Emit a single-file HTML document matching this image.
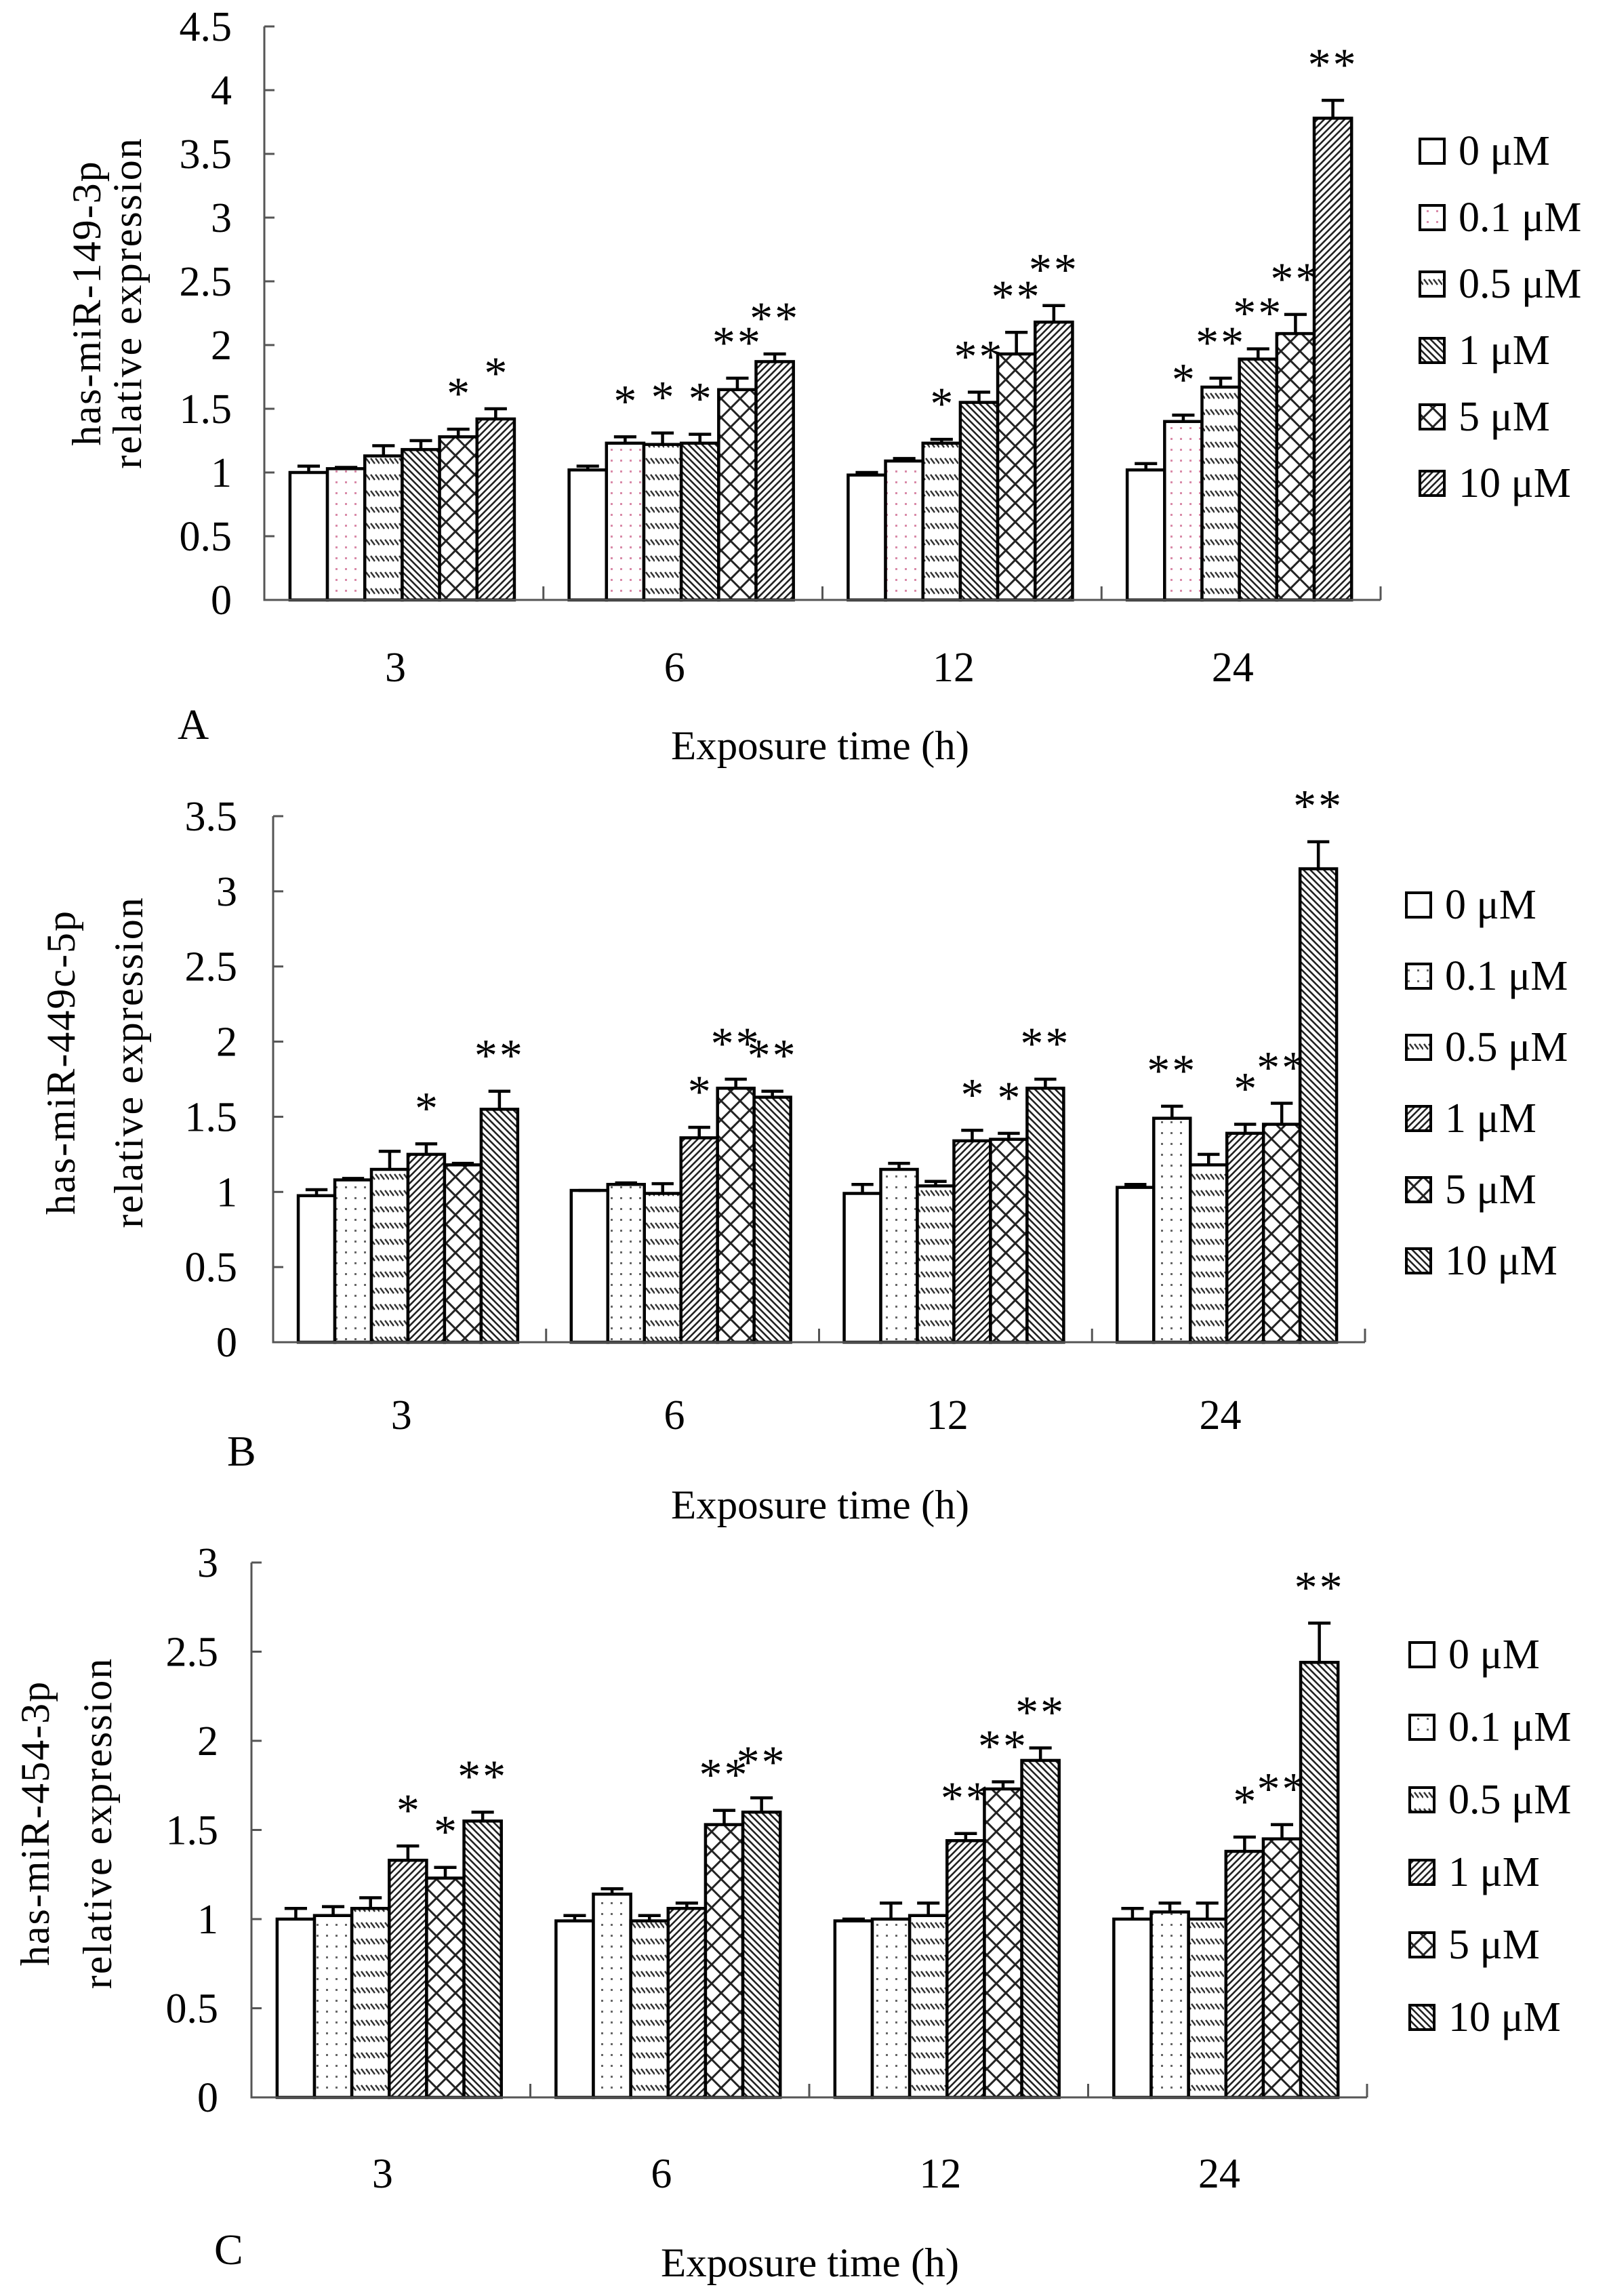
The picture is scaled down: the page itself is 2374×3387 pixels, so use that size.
<!DOCTYPE html>
<html><head><meta charset="utf-8"><style>
html,body{margin:0;padding:0;background:#fff;}
svg{display:block;}
text{font-family:"Liberation Serif",serif;fill:#000;}
</style></head><body>
<svg id="fig" width="2374" height="3387" viewBox="0 0 2374 3387" xmlns="http://www.w3.org/2000/svg">
<defs>
<pattern id="pDotPink" width="14" height="16" patternUnits="userSpaceOnUse"><rect width="14" height="16" fill="#fff"/><rect x="5" y="6" width="3" height="3" fill="#d98aa8"/></pattern>
<pattern id="pDotGray" width="14" height="16" patternUnits="userSpaceOnUse"><rect width="14" height="16" fill="#fff"/><rect x="5" y="6" width="3" height="3" fill="#666"/></pattern>
<pattern id="pDash" width="14" height="24" patternUnits="userSpaceOnUse"><rect width="14" height="24" fill="#fff"/><path d="M1 4 L7 12 M8 4 L14 12" stroke="#333" stroke-width="2.5"/></pattern>
<pattern id="pBack" width="10" height="10" patternUnits="userSpaceOnUse"><rect width="10" height="10" fill="#fff"/><path d="M-2 -2 L12 12 M-2 8 L2 12 M8 -2 L12 2" stroke="#222" stroke-width="2.6"/></pattern>
<pattern id="pFwd" width="10" height="10" patternUnits="userSpaceOnUse"><rect width="10" height="10" fill="#fff"/><path d="M-2 12 L12 -2 M-2 2 L2 -2 M8 12 L12 8" stroke="#222" stroke-width="2.6"/></pattern>
<pattern id="pBrick" width="28" height="28" patternUnits="userSpaceOnUse"><rect width="28" height="28" fill="#fff"/><path d="M0 28 L28 0 M-7 7 L7 -7 M21 35 L35 21 M0 0 L14 14 M14 14 L28 28" stroke="#222" stroke-width="3" fill="none"/></pattern>
</defs>
<g id="root"></g>
</svg>
<script>
// ---------- Panel A data ----------
const categoriesA = ["3", "6", "12", "24"];
const seriesNames = ["0 μM", "0.1 μM", "0.5 μM", "1 μM", "5 μM", "10 μM"];
const ticksA = [0, 0.5, 1, 1.5, 2, 2.5, 3, 3.5, 4, 4.5];
const valuesA = [
  [1.00, 1.03, 1.13, 1.18, 1.28, 1.42],
  [1.02, 1.23, 1.22, 1.23, 1.65, 1.87],
  [0.98, 1.09, 1.23, 1.55, 1.93, 2.18],
  [1.02, 1.40, 1.67, 1.89, 2.09, 3.78]
];
const errorsA = [
  [0.05, 0.01, 0.08, 0.07, 0.06, 0.08],
  [0.03, 0.05, 0.09, 0.07, 0.09, 0.06],
  [0.02, 0.02, 0.03, 0.08, 0.17, 0.13],
  [0.05, 0.05, 0.07, 0.08, 0.15, 0.14]
];
const starsA = [
  ["", "", "", "", "*", "*"],
  ["", "*", "*", "*", "**", "**"],
  ["", "", "*", "**", "**", "**"],
  ["", "*", "**", "**", "**", "**"]
];
// ---------- Panel B data ----------
const categoriesB = ["3", "6", "12", "24"];
const ticksB = [0, 0.5, 1, 1.5, 2, 2.5, 3, 3.5];
const valuesB = [
  [0.975, 1.08, 1.15, 1.25, 1.18, 1.55],
  [1.01, 1.05, 0.99, 1.36, 1.69, 1.63],
  [0.99, 1.15, 1.04, 1.34, 1.35, 1.69],
  [1.03, 1.49, 1.18, 1.39, 1.45, 3.15]
];
const errorsB = [
  [0.04, 0.01, 0.12, 0.07, 0.01, 0.12],
  [0.00, 0.01, 0.065, 0.07, 0.06, 0.04],
  [0.06, 0.04, 0.03, 0.07, 0.04, 0.06],
  [0.02, 0.08, 0.07, 0.06, 0.14, 0.18]
];
const starsB = [
  ["", "", "", "*", "", "**"],
  ["", "", "", "*", "**", "**"],
  ["", "", "", "*", "*", "**"],
  ["", "**", "", "*", "**", "**"]
];
// ---------- Panel C data ----------
const categoriesC = ["3", "6", "12", "24"];
const ticksC = [0, 0.5, 1, 1.5, 2, 2.5, 3];
const valuesC = [
  [1.00, 1.02, 1.06, 1.33, 1.23, 1.55],
  [0.99, 1.14, 0.99, 1.06, 1.53, 1.60],
  [0.99, 1.00, 1.02, 1.44, 1.73, 1.89],
  [1.00, 1.04, 1.00, 1.38, 1.45, 2.44]
];
const errorsC = [
  [0.06, 0.05, 0.06, 0.08, 0.06, 0.05],
  [0.03, 0.03, 0.03, 0.03, 0.08, 0.08],
  [0.01, 0.09, 0.07, 0.04, 0.04, 0.07],
  [0.06, 0.05, 0.09, 0.08, 0.08, 0.22]
];
const starsC = [
  ["", "", "", "*", "*", "**"],
  ["", "", "", "", "**", "**"],
  ["", "", "", "**", "**", "**"],
  ["", "", "", "*", "**", "**"]
];

const NS = "http://www.w3.org/2000/svg";
const root = document.getElementById("root");
function mk(tag, attrs, parent) {
  const e = document.createElementNS(NS, tag);
  for (const k in attrs) e.setAttribute(k, attrs[k]);
  (parent || root).appendChild(e);
  return e;
}

function drawPanel(cfg) {
  const g = mk("g", {});
  
  
  const {x0, x1, y0, yTop, ticks, cats, vals, errs, stars, fills} = cfg;
  const ymax = ticks[ticks.length - 1];
  const yS = v => y0 - (y0 - yTop) * v / ymax;
  const gw = (x1 - x0) / cats.length;
  const bw = gw * 0.134;
  const xBar = (ci, si) => x0 + ci * gw + gw * 0.092 + si * bw;

  vals.forEach((row, ci) => {
    row.forEach((v, si) => {
      const bx = xBar(ci, si), by = yS(v);
      const r = mk("rect", {x: bx, y: by, width: bw, height: y0 - by, fill: fills[si], stroke: "#000", "stroke-width": 4.5}, g);
      
      
      const e = errs[ci][si];
      const cx = bx + bw / 2, ey = yS(v + e);
      const eb = mk("path", {d: `M${cx} ${by} L${cx} ${ey} M${cx - bw * 0.3} ${ey} L${cx + bw * 0.3} ${ey}`, stroke: "#000", "stroke-width": 4.5, fill: "none"}, g);
      
      
      const s = stars[ci][si];
      if (s) {
        const t = mk("text", {x: cx, y: ey - 30, "font-size": 68, "text-anchor": "middle"}, g);
        t.textContent = s;
        if (s === "**") t.setAttribute("letter-spacing", "3");
        
        
      }
    });
  });

  const ax = mk("path", {d: `M${x0} ${yTop} L${x0} ${y0} L${x1} ${y0}`, stroke: "#555", "stroke-width": 3, fill: "none"}, g);
  
  
  ticks.forEach(t => {
    const yy = yS(t);
    mk("line", {x1: x0, x2: x0 + 15, y1: yy, y2: yy, stroke: "#555", "stroke-width": 3}, g);
    const tl = mk("text", {x: cfg.tickRight, y: yy + 21, "font-size": 62, "text-anchor": "end"}, g);
    tl.textContent = String(t);
    
    
  });
  for (let i = 1; i <= cats.length; i++) {
    const xx = x0 + i * gw;
    mk("line", {x1: xx, x2: xx, y1: y0, y2: y0 - 20, stroke: "#555", "stroke-width": 3}, g);
  }
  cats.forEach((c, ci) => {
    const t = mk("text", {x: x0 + ci * gw + gw * 0.47, y: cfg.catY, "font-size": 62, "text-anchor": "middle"}, g);
    t.textContent = c;
    
    
  });
  const xt = mk("text", {x: cfg.titleX, y: cfg.titleY, "font-size": 60, "text-anchor": "middle", "textLength": 440, "lengthAdjust": "spacingAndGlyphs"}, g);
  xt.textContent = "Exposure time (h)";
  
  
  const pl = mk("text", {x: cfg.letterX, y: cfg.letterY, "font-size": 64}, g);
  pl.textContent = cfg.letter;
  
  
  const yc = (y0 + yTop) / 2 + cfg.yLabOff;
  const yl1 = mk("text", {x: 0, y: 0, "font-size": 60, "text-anchor": "middle", transform: `translate(${cfg.yLab1}, ${yc}) rotate(-90)`, "letter-spacing": "2"}, g);
  yl1.textContent = cfg.ylabel;
  
  
  const yl2 = mk("text", {x: 0, y: 0, "font-size": 60, "text-anchor": "middle", transform: `translate(${cfg.yLab2}, ${yc}) rotate(-90)`, "letter-spacing": "2"}, g);
  yl2.textContent = "relative expression";
  
  
  seriesNames.forEach((n, si) => {
    const ly = cfg.legY + si * cfg.legStep;
    const le = mk("g", {}, g);
    
    
    mk("rect", {x: cfg.legX, y: ly - 18, width: 36, height: 36, fill: fills[si], stroke: "#000", "stroke-width": 4}, le);
    const t = mk("text", {x: cfg.legX + 57, y: ly + 20, "font-size": 62}, le);
    t.textContent = n;
  });
}

const fillsA = ["#fff", "url(#pDotPink)", "url(#pDash)", "url(#pBack)", "url(#pBrick)", "url(#pFwd)"];
const fillsBC = ["#fff", "url(#pDotGray)", "url(#pDash)", "url(#pFwd)", "url(#pBrick)", "url(#pBack)"];

drawPanel({name: "chart-a", key: "a", letter: "A", ylabel: "has-miR-149-3p", x0: 390, x1: 2037, y0: 885, yTop: 39,
  ticks: ticksA, cats: categoriesA, vals: valuesA, errs: errorsA, stars: starsA, fills: fillsA,
  tickRight: 342, catY: 1005, titleX: 1210, titleY: 1120, letterX: 262, letterY: 1090,
  yLab1: 148, yLab2: 208, yLabOff: -15, legX: 2095, legY: 223, legStep: 98});
drawPanel({name: "chart-b", key: "b", letter: "B", ylabel: "has-miR-449c-5p", x0: 403, x1: 2014, y0: 1980, yTop: 1204,
  ticks: ticksB, cats: categoriesB, vals: valuesB, errs: errorsB, stars: starsB, fills: fillsBC,
  tickRight: 350, catY: 2108, titleX: 1210, titleY: 2240, letterX: 335, letterY: 2162,
  yLab1: 110, yLab2: 210, yLabOff: -25, legX: 2075, legY: 1335, legStep: 105});
drawPanel({name: "chart-c", key: "c", letter: "C", ylabel: "has-miR-454-3p", x0: 371, x1: 2017, y0: 3094, yTop: 2305,
  ticks: ticksC, cats: categoriesC, vals: valuesC, errs: errorsC, stars: starsC, fills: fillsBC,
  tickRight: 322, catY: 3227, titleX: 1195, titleY: 3358, letterX: 316, letterY: 3340,
  yLab1: 72, yLab2: 164, yLabOff: -10, legX: 2080, legY: 2441, legStep: 107});
</script>
</body></html>
